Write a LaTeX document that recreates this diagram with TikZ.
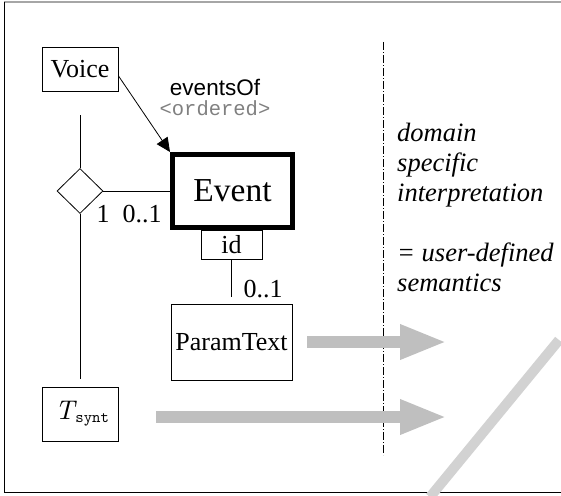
\documentclass[tikz,border=0pt]{standalone}
\usepackage{fontspec}
\setmainfont{Liberation Serif}
\newfontfamily\helv{Liberation Sans}
\newfontfamily\cour{Liberation Mono}
\newfontfamily\lmit{lmroman10-italic.otf}
\newfontfamily\lmtt{lmmono10-regular.otf}
\usetikzlibrary{arrows.meta,shapes.geometric}
\tikzset{
  cls/.style={draw, line width=0.8pt, inner sep=0pt, font=\fontsize{26}{28}\selectfont},
  mult/.style={inner sep=0pt, font=\fontsize{26}{28}\selectfont},
  bigarrow/.style={draw=gray!50, line width=12pt, -{Triangle[length=47pt,width=32pt]}}
}
\begin{document}
\begin{tikzpicture}[x=1pt,y=-1pt]
  \useasboundingbox (0,0) rectangle (561,495);
  \draw [gray!70, line width=1.2pt] (561,2)--(4,2);
  \draw [line width=1pt] (4,2)--(4,492)--(561,492);
  \draw [gray!35, line width=10pt] (559,340)--(430,497);

  \node [cls, minimum width=76pt, minimum height=44pt] (voice) at (80,69) {Voice};
  \node [cls, minimum width=76pt, minimum height=54pt] (tsynt) at (80,414)
    {\kern4pt{\lmit\fontsize{27}{29}\selectfont T}\kern1pt\raisebox{-3pt}{\lmtt\fontsize{16}{17}\selectfont synt}};
  \node [cls, diamond, minimum width=46pt, minimum height=45pt] (agg) at (80,191) {};
  \node [cls, minimum width=61pt, minimum height=29pt] (idbox) at (231.5,244.5) {id};
  \node [draw, line width=5pt, inner sep=0pt, minimum width=120pt, minimum height=73pt,
         font=\fontsize{33.5}{36}\selectfont, fill=white] (event) at (232.5,191) {Event};
  \node [cls, minimum width=121pt, minimum height=76pt] (param) at (231.5,342) {ParamText};

  \draw [line width=0.8pt, shorten <=24pt] (voice)--(agg);
  \draw [line width=0.8pt, shorten >=8pt] (agg)--(tsynt);
  \draw [line width=0.8pt] (agg.east)--(event.west);
  \draw [line width=0.8pt, shorten >=7pt] (idbox)--(param);
  \draw [line width=0.8pt, -{Triangle[length=14pt,width=13pt]}] (voice.-10)--(event.north west);

  \node [inner sep=0pt, font=\helv\fontsize{22.5}{24}\selectfont] (evof) at (215,87) {eventsOf};
  \node [inner sep=0pt, font=\cour\fontsize{20.5}{22}\selectfont, text=gray] (ord) at (215,108) {<ordered>};
  \node [mult] (one) at (103,214) {1};
  \node [mult] (zo) at (142,214) {0..1};
  \node [mult] (zo2) at (263,289) {0..1};

  \draw [line width=0.8pt, dash pattern=on 8pt off 2pt on 1pt off 2pt] (383,42)--(383,455);
  \node [inner sep=0pt, anchor=north west, align=left, font=\itshape\fontsize{26.5}{30}\selectfont] (sem) at (397,123)
    {domain\\specific\\interpretation\\[30pt]= user-defined\\semantics};

  \coordinate (a1) at (307,342);
  \coordinate (a2) at (447,342);
  \coordinate (b1) at (156,417);
  \coordinate (b2) at (447,417);
  \draw [bigarrow] (a1)--(a2);
  \draw [bigarrow] (b1)--(b2);
\end{tikzpicture}
\end{document}
